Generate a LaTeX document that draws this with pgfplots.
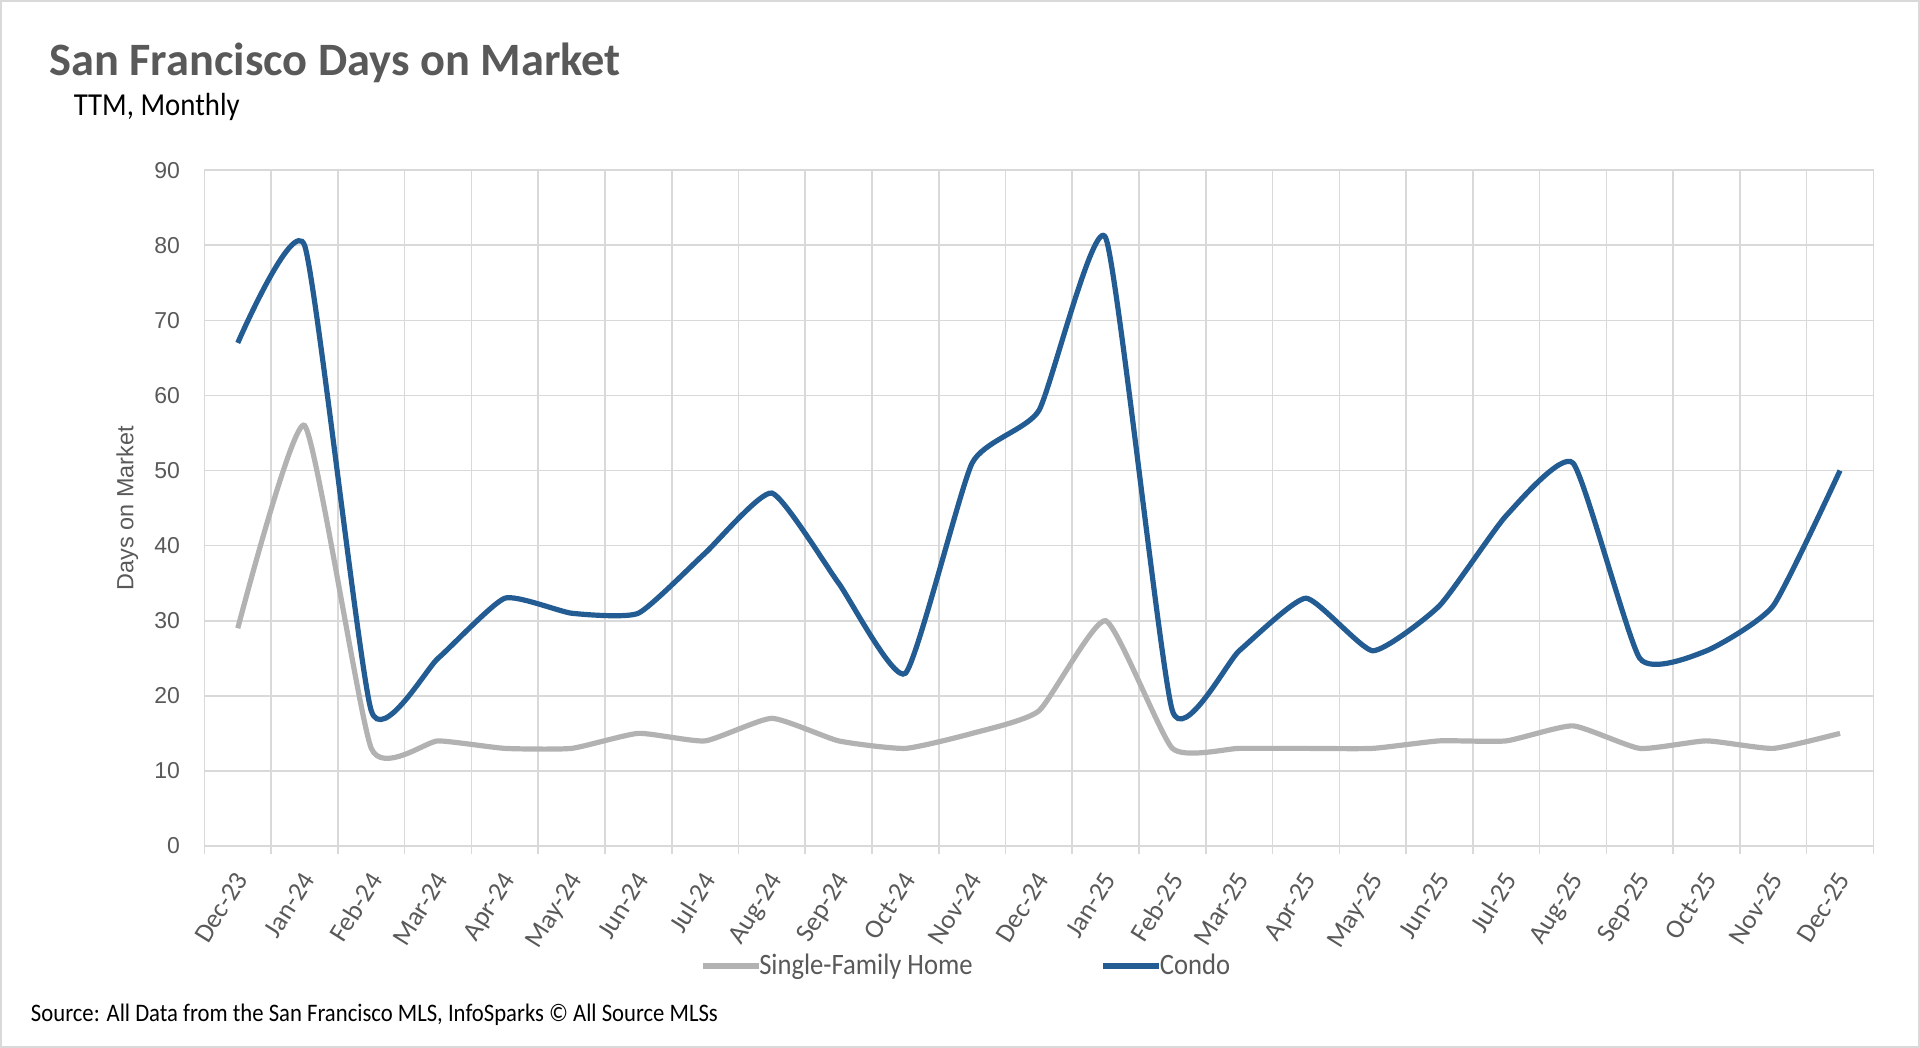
\documentclass[border=0pt]{standalone}
\usepackage{fontspec}
\setmainfont{Carlito}
\newfontfamily\narrowfont[FakeStretch=0.9]{Carlito}
\newfontfamily\arialfont{Liberation Sans}
\usepackage{pgfplots}
\pgfplotsset{compat=1.18}
\definecolor{condo}{HTML}{225C92}
\definecolor{sfh}{HTML}{B2B2B2}
\definecolor{txtgray}{HTML}{595959}
\definecolor{gridgray}{HTML}{D9D9D9}
\begin{document}
\begin{tikzpicture}[x=1pt,y=1pt]
\path[use as bounding box] (0,0) rectangle (960,524);
\draw[gridgray, line width=1.2pt] (0.6,0.6) rectangle (959.4,523.4);
\node[anchor=base west, text=txtgray, font=\fontsize{23.2}{27}\selectfont\bfseries, inner sep=0pt] at (24.5,486) {San Francisco Days on Market};
\node[anchor=base west, text=black, font=\narrowfont\fontsize{16}{19}\selectfont, inner sep=0pt] at (36.7,466) {TTM, Monthly};
\node[anchor=base west, text=black, font=\narrowfont\fontsize{12.6}{14}\selectfont, inner sep=0pt] at (15.3,13.4) {Source: All Data from the San Francisco MLS, InfoSparks \textcopyright{} All Source MLSs};
\begin{axis}[
  at={(102.2pt,101pt)}, anchor=south west,
  width=834.5pt, height=337.9pt, scale only axis,
  xmin=-0.5, xmax=24.5, ymin=0, ymax=90,
  xtick={0,...,24},
  xticklabels={Dec-23,Jan-24,Feb-24,Mar-24,Apr-24,May-24,Jun-24,Jul-24,Aug-24,Sep-24,Oct-24,Nov-24,Dec-24,Jan-25,Feb-25,Mar-25,Apr-25,May-25,Jun-25,Jul-25,Aug-25,Sep-25,Oct-25,Nov-25,Dec-25},
  minor xtick={-0.5,0.5,...,24.5},
  xminorgrids, ymajorgrids,
  ytick={0,10,...,90},
  minor grid style={gridgray, line width=0.8pt},
  major grid style={gridgray, line width=0.8pt},
  axis line style={gridgray, line width=0.8pt},
  major tick length=0pt,
  minor tick length=4pt,
  tick align=outside,
  xtick pos=bottom, ytick pos=left,
  minor tick style={gridgray, line width=0.8pt},
  /pgf/number format/assume math mode=true,
  yticklabel style={font=\arialfont\fontsize{11.5}{12}\selectfont, text=txtgray, inner sep=0pt, anchor=east, xshift=-12pt},
  xticklabel style={font=\fontsize{13.4}{15}\selectfont, text=txtgray, inner sep=0pt, xshift=-2pt, yshift=-12pt, rotate=58, anchor=north east},
  ylabel={Days on Market},
  every axis y label/.style={at={(axis description cs:0,0.5)}, xshift=-38.5pt, rotate=90, anchor=center, font=\arialfont\fontsize{11.7}{13}\selectfont, text=txtgray},
  legend style={at={(axis description cs:0.457,-0.1776)}, anchor=center, draw=none, fill=none, legend columns=2, font=\narrowfont\fontsize{14.8}{17}\selectfont, text=txtgray, /tikz/every even column/.append style={column sep=62pt}, /tikz/every odd column/.append style={column sep=-3pt}},
  legend image code/.code={\draw[#1, line width=2.6pt] (0pt,0pt) -- (28pt,0pt);},
  legend cell align=left,
  clip=false,
]
\addplot[sfh, line width=2.6pt, smooth, tension=0.3] coordinates {
(0,29) (1,56) (2,13) (3,14) (4,13) (5,13) (6,15) (7,14) (8,17) (9,14) (10,13) (11,15) (12,18) (13,30) (14,13) (15,13) (16,13) (17,13) (18,14) (19,14) (20,16) (21,13) (22,14) (23,13) (24,15)};
\addlegendentry{Single-Family Home}
\addplot[condo, line width=2.6pt, smooth, tension=0.3] coordinates {
(0,67) (1,80) (2,18) (3,25) (4,33) (5,31) (6,31) (7,39) (8,47) (9,35) (10,23) (11,51) (12,58) (13,81) (14,18) (15,26) (16,33) (17,26) (18,32) (19,44) (20,51) (21,25) (22,26) (23,32) (24,50)};
\addlegendentry{Condo}
\end{axis}
\end{tikzpicture}
\end{document}
